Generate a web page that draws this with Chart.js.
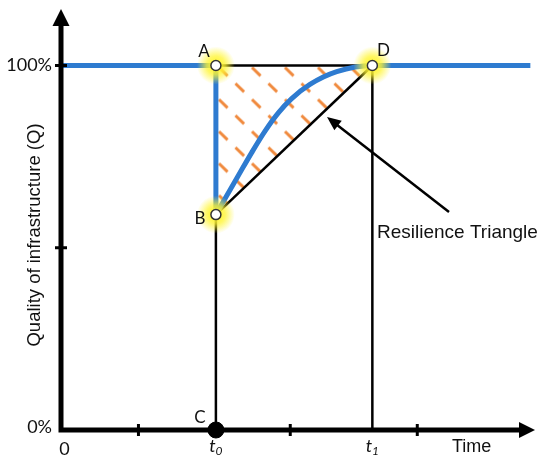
<!DOCTYPE html>
<html>
<head>
<meta charset="utf-8">
<script src="https://cdn.jsdelivr.net/npm/chart.js@4.4.1/dist/chart.umd.min.js"></script>
<style>
html, body { margin: 0; padding: 0; background: #fff; }
#wrap { width: 550px; height: 468px; position: relative; }
</style>
</head>
<body>
<div id="wrap"><canvas id="resChart"></canvas></div>
<script>
// time in arbitrary units, quality in %
var t0 = 10;
var t1 = 20.1;
var xMinorTicks = [5, 14.8, 23];
var xLabelTicks = [0, 10, 20.1];
var xTickLabels = ['0', 't0', 't1'];
var yMinorTicks = [50, 100];
var yLabelTicks = [0, 100];
var yTickLabels = ['0%', '100%'];

var qFull = 100;
var qDrop = 59.1;

// recovery curve from B to D, then flat
var recoveryX = [10, 11.45, 12.31, 13.17, 14.03, 14.89, 16.07, 17.8, 20.1, 30.3];
var recoveryQ = [59.1, 69.8, 76.1, 82.0, 87.0, 90.9, 94.8, 98.3, 100, 100];

var pointNames = ['A', 'B', 'D'];
var pointX = [10, 10, 20.1];
var pointQ = [100, 59.1, 100];

var BLUE = '#2e7bd0';
var ORANGE = '#f08a3e';

function xy(xs, ys) {
    var out = [];
    for (var i = 0; i < xs.length; i++) out.push({ x: xs[i], y: ys[i] });
    return out;
}

// orange dashed diagonal hatch, anchored at point A
function hatchFill(context) {
    var chart = context.chart;
    if (!chart.chartArea) return 'rgba(0,0,0,0)';
    var ax = chart.scales.x.getPixelForValue(t0);
    var ay = chart.scales.y.getPixelForValue(qFull);
    var w = 33, h = 32;
    var c = document.createElement('canvas');
    c.width = w; c.height = h;
    var g = c.getContext('2d');
    g.strokeStyle = ORANGE;
    g.lineWidth = 3;
    g.setLineDash([12, 11]);
    for (var dx = -1; dx <= 1; dx++) {
        for (var dy = -1; dy <= 1; dy++) {
            g.beginPath();
            g.moveTo(dx * w, dy * h);
            g.lineTo(dx * w + w, dy * h + h);
            g.stroke();
        }
    }
    var pat = chart.ctx.createPattern(c, 'repeat');
    pat.setTransform(new DOMMatrix().translate(ax + 3, ay + 2));
    return pat;
}

var glowPlugin = {
    id: 'glow',
    beforeDatasetDraw: function (chart, args) {
        if (chart.data.datasets[args.index].label !== 'points') return;
        var g = chart.ctx;
        g.save();
        args.meta.data.forEach(function (el) {
            var grd = g.createRadialGradient(el.x, el.y, 3, el.x, el.y, 19);
            grd.addColorStop(0, 'rgba(255,245,50,1)');
            grd.addColorStop(0.4, 'rgba(255,245,50,0.75)');
            grd.addColorStop(1, 'rgba(255,245,50,0)');
            g.fillStyle = grd;
            g.beginPath();
            g.arc(el.x, el.y, 19, 0, Math.PI * 2);
            g.fill();
        });
        g.restore();
    }
};

var axesPlugin = {
    id: 'arrowAxes',
    afterDatasetsDraw: function (chart) {
        var g = chart.ctx, xs = chart.scales.x, ys = chart.scales.y, area = chart.chartArea;
        var x0 = xs.getPixelForValue(0), y0 = ys.getPixelForValue(0);
        g.save();
        g.strokeStyle = '#000';
        g.fillStyle = '#000';
        g.lineWidth = 5;
        g.lineJoin = 'miter';
        g.beginPath();
        g.moveTo(x0, area.top + 14);
        g.lineTo(x0, y0);
        g.lineTo(area.right - 14, y0);
        g.stroke();
        // arrow heads
        g.beginPath();
        g.moveTo(x0, area.top);
        g.lineTo(x0 - 8.5, area.top + 17);
        g.lineTo(x0 + 8.5, area.top + 17);
        g.closePath();
        g.fill();
        g.beginPath();
        g.moveTo(area.right, y0);
        g.lineTo(area.right - 16, y0 - 8);
        g.lineTo(area.right - 16, y0 + 8);
        g.closePath();
        g.fill();
        // small ticks
        g.lineWidth = 3;
        xMinorTicks.forEach(function (v) {
            var x = xs.getPixelForValue(v);
            g.beginPath(); g.moveTo(x, y0 - 6); g.lineTo(x, y0 + 6); g.stroke();
        });
        yMinorTicks.forEach(function (v) {
            var y = ys.getPixelForValue(v);
            g.beginPath(); g.moveTo(x0 - 6, y); g.lineTo(x0 + 6, y); g.stroke();
        });
        g.restore();
    }
};

var labelPlugin = {
    id: 'labels',
    afterDraw: function (chart) {
        var g = chart.ctx, xs = chart.scales.x, ys = chart.scales.y;
        var x0 = xs.getPixelForValue(0), y0 = ys.getPixelForValue(0);
        g.save();
        g.fillStyle = '#111';
        g.textBaseline = 'middle';

        // y tick labels
        g.font = '18px Lato';
        g.textAlign = 'right';
        yLabelTicks.forEach(function (v, i) {
            var y = ys.getPixelForValue(v);
            g.fillText(yTickLabels[i], x0 - 9, v === 0 ? y - 3 : y);
        });

        // x tick labels
        xLabelTicks.forEach(function (v, i) {
            var x = xs.getPixelForValue(v);
            var lab = xTickLabels[i];
            if (lab.charAt(0) === 't') {
                g.font = 'italic 18px Lato';
                var w1 = g.measureText('t').width;
                g.font = 'italic 12px Lato';
                var w2 = g.measureText(lab.slice(1)).width;
                var sx = x - (w1 + w2) / 2;
                g.textAlign = 'left';
                g.font = 'italic 18px Lato';
                g.fillText('t', sx, y0 + 16);
                g.font = 'italic 12px Lato';
                g.fillText(lab.slice(1), sx + w1, y0 + 21);
            } else {
                g.font = '18px Lato';
                g.textAlign = 'center';
                g.fillText(lab, x + 3.5, y0 + 19);
            }
        });

        // point letters
        g.font = '17px Lato';
        g.textAlign = 'center';
        var offs = { A: [-12, -14], B: [-16, 4], D: [11, -15] };
        pointNames.forEach(function (n, i) {
            var p = { x: xs.getPixelForValue(pointX[i]), y: ys.getPixelForValue(pointQ[i]) };
            g.fillText(n, p.x + offs[n][0], p.y + offs[n][1]);
        });
        g.fillText('C', xs.getPixelForValue(t0) - 16, y0 - 12);

        // axis titles
        g.font = '18px "Liberation Sans"';
        g.textAlign = 'left';
        g.fillText('Time', 452, y0 + 17);
        g.save();
        g.translate(35, 235);
        g.rotate(-Math.PI / 2);
        g.textAlign = 'center';
        g.font = '18.5px "Liberation Sans"';
        g.fillText('Quality of infrastructure (Q)', 0, 0);
        g.restore();

        // annotation
        g.font = '19px "Liberation Sans"';
        g.textAlign = 'left';
        g.fillText('Resilience Triangle', 377, 233);
        var tx = 449, ty = 212, hx = 327, hy = 117;
        var ang = Math.atan2(hy - ty, hx - tx);
        g.strokeStyle = '#000';
        g.lineWidth = 2.5;
        g.beginPath();
        g.moveTo(tx, ty);
        g.lineTo(hx - 10 * Math.cos(ang), hy - 10 * Math.sin(ang));
        g.stroke();
        g.beginPath();
        g.moveTo(hx, hy);
        g.lineTo(hx - 14 * Math.cos(ang) + 6 * Math.sin(ang), hy - 14 * Math.sin(ang) - 6 * Math.cos(ang));
        g.lineTo(hx - 14 * Math.cos(ang) - 6 * Math.sin(ang), hy - 14 * Math.sin(ang) + 6 * Math.cos(ang));
        g.closePath();
        g.fillStyle = '#000';
        g.fill();
        g.restore();
    }
};

var chart = new Chart(document.getElementById('resChart'), {
    type: 'line',
    data: {
        datasets: [
            {
                label: 'points',
                data: xy(pointX, pointQ),
                showLine: false,
                pointRadius: 5,
                pointBackgroundColor: '#fff',
                pointBorderColor: '#333',
                pointBorderWidth: 1.5,
                order: 0
            },
            {
                label: 'C',
                data: [{ x: t0, y: 0 }],
                showLine: false,
                pointRadius: 8,
                pointBackgroundColor: '#000',
                pointBorderColor: '#000',
                order: 1
            },
            {
                label: 'drop',
                data: [{ x: 0, y: qFull }, { x: t0, y: qFull }, { x: t0, y: qDrop }],
                borderColor: BLUE,
                borderWidth: 5,
                pointRadius: 0,
                tension: 0,
                order: 2
            },
            {
                label: 'recovery',
                data: xy(recoveryX, recoveryQ),
                borderColor: BLUE,
                borderWidth: 5,
                pointRadius: 0,
                cubicInterpolationMode: 'monotone',
                order: 3
            },
            {
                label: 'top',
                data: [{ x: t0, y: qFull }, { x: t1, y: qFull }],
                borderColor: '#000',
                borderWidth: 2.5,
                pointRadius: 0,
                order: 4
            },
            {
                label: 'triangle',
                data: [{ x: t0, y: qDrop }, { x: t1, y: qFull }],
                borderColor: '#000',
                borderWidth: 2.5,
                pointRadius: 0,
                fill: 4,
                backgroundColor: hatchFill,
                order: 5
            },
            {
                label: 't0 line',
                data: [{ x: t0, y: 0 }, { x: t0, y: qFull }],
                borderColor: '#000',
                borderWidth: 2.5,
                pointRadius: 0,
                order: 6
            },
            {
                label: 't1 line',
                data: [{ x: t1, y: 0 }, { x: t1, y: qFull }],
                borderColor: '#000',
                borderWidth: 2.5,
                pointRadius: 0,
                order: 7
            }
        ]
    },
    options: {
        responsive: true,
        maintainAspectRatio: false,
        animation: false,
        clip: false,
        layout: { padding: { left: 61, right: 15, top: 8, bottom: 38 } },
        plugins: { legend: { display: false }, tooltip: { enabled: false } },
        scales: {
            x: { type: 'linear', min: 0, max: 30.6, display: false },
            y: { type: 'linear', min: 0, max: 115.5, display: false }
        }
    },
    plugins: [glowPlugin, axesPlugin, labelPlugin]
});
</script>
</body>
</html>
